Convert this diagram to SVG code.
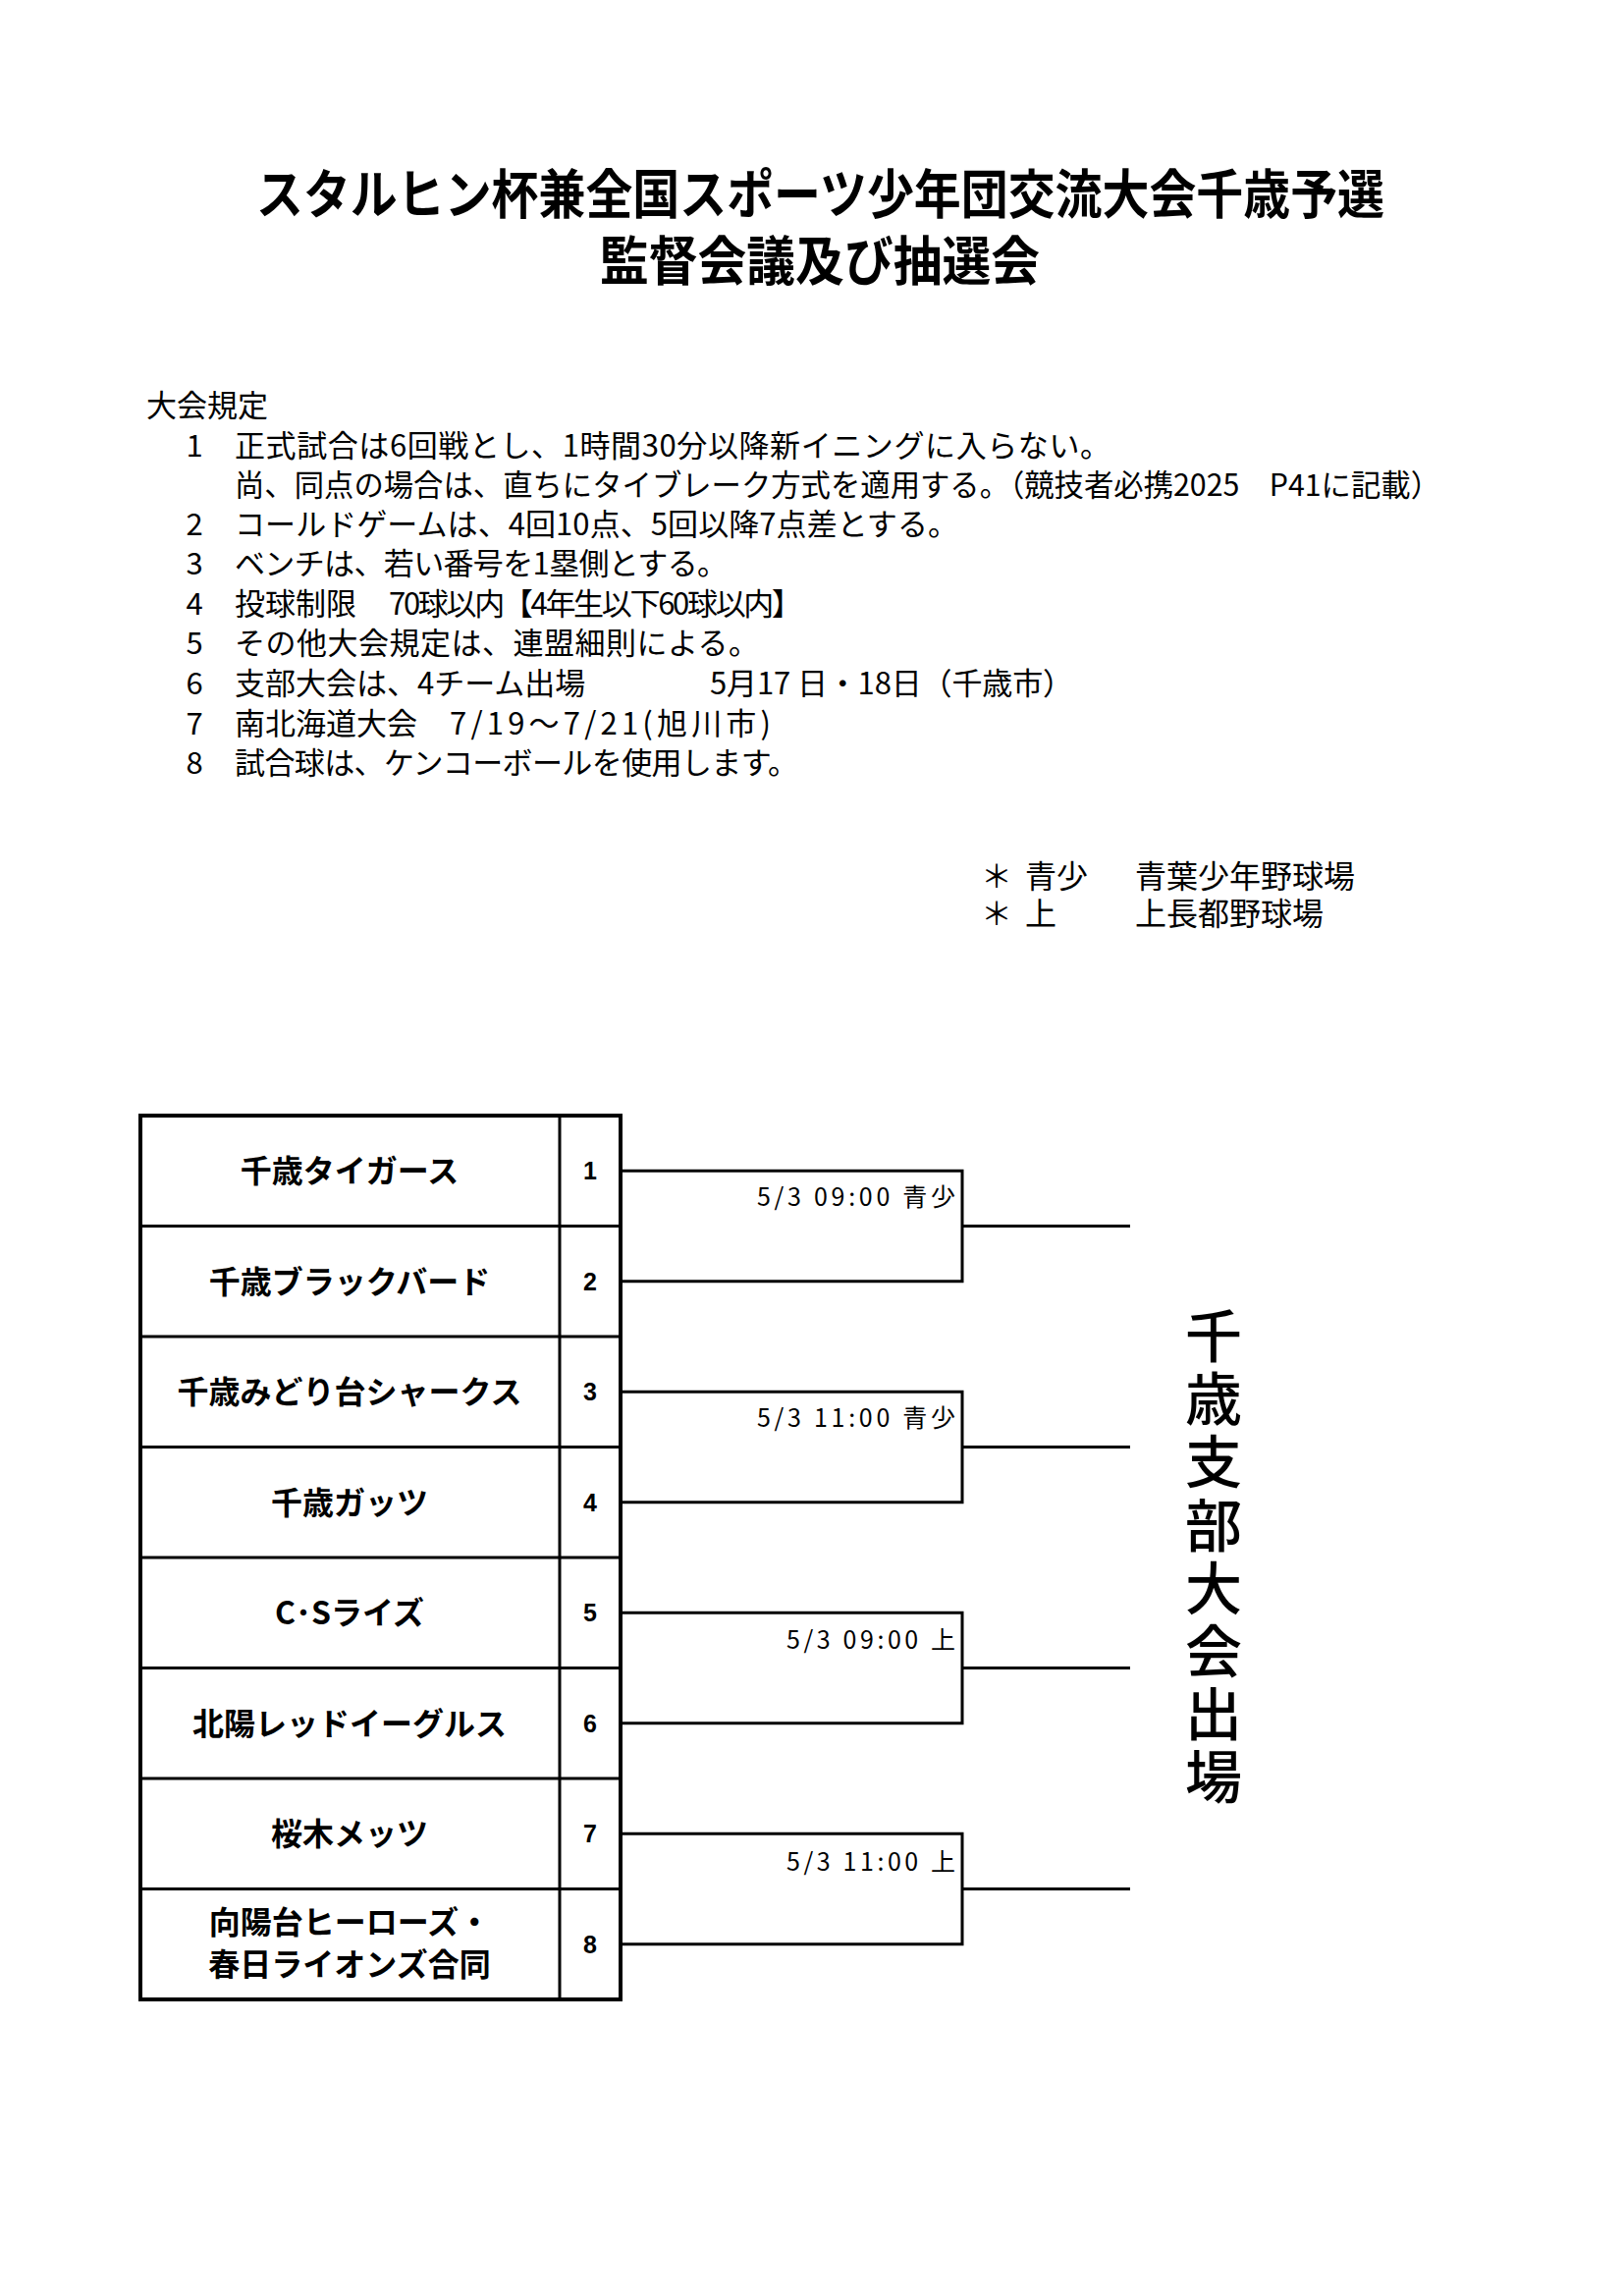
<svg xmlns="http://www.w3.org/2000/svg" width="1654" height="2338" viewBox="0 0 1654 2338">
<style>
text { font-family: "Noto Sans CJK JP", "Noto Sans CJK SC", sans-serif; fill:#000; }
.title { font-size:54px; font-weight:700; }
.rule { font-size:31px; }
.note { font-size:32px; }
.team { font-size:32px; font-weight:700; text-anchor:middle; }
.num { font-family:"Liberation Sans", sans-serif; font-weight:700; font-size:25px; text-anchor:middle; }
.lbl { font-size:25px; }
.vert { font-size:58px; font-weight:500; writing-mode:vertical-rl; letter-spacing:6.2px; }
.ln { stroke:#000; stroke-width:3; fill:none; }
.outer { stroke:#000; stroke-width:4; fill:none; }
</style>
<rect width="1654" height="2338" fill="#fff"/>
<g id="title">
<text class="title" x="261" y="218" textLength="1149" lengthAdjust="spacingAndGlyphs">スタルヒン杯兼全国スポーツ少年団交流大会千歳予選</text>
<text class="title" x="611" y="286" textLength="448" lengthAdjust="spacingAndGlyphs">監督会議及び抽選会</text>
</g>
<g id="rules">
<text class="rule" x="149" y="424">大会規定</text>
<text class="rule" x="198" y="465" text-anchor="middle">1</text>
<text class="rule" x="239" y="465" textLength="892" lengthAdjust="spacing">正式試合は6回戦とし、1時間30分以降新イニングに入らない。</text>
<text class="rule" x="239" y="505" textLength="1228" lengthAdjust="spacingAndGlyphs">尚、同点の場合は、直ちにタイブレーク方式を適用する。（競技者必携2025　P41に記載）</text>
<text class="rule" x="198" y="545" text-anchor="middle">2</text>
<text class="rule" x="239" y="545" textLength="737" lengthAdjust="spacing">コールドゲームは、4回10点、5回以降7点差とする。</text>
<text class="rule" x="198" y="585" text-anchor="middle">3</text>
<text class="rule" x="239" y="585" textLength="502" lengthAdjust="spacing">ベンチは、若い番号を1塁側とする。</text>
<text class="rule" x="198" y="626" text-anchor="middle">4</text>
<text class="rule" x="239" y="626">投球制限</text>
<text class="rule" x="396" y="626" textLength="421" lengthAdjust="spacing">70球以内【4年生以下60球以内】</text>
<text class="rule" x="198" y="666" text-anchor="middle">5</text>
<text class="rule" x="239" y="666" textLength="534" lengthAdjust="spacing">その他大会規定は、連盟細則による。</text>
<text class="rule" x="198" y="707" text-anchor="middle">6</text>
<text class="rule" x="239" y="707">支部大会は、4チーム出場</text>
<text class="rule" x="723" y="707" textLength="370" lengthAdjust="spacing">5月17 日・18日（千歳市）</text>
<text class="rule" x="198" y="748" text-anchor="middle">7</text>
<text class="rule" x="239" y="748">南北海道大会</text>
<text class="rule" x="458" y="748" textLength="327" lengthAdjust="spacing">7/19～7/21(旭川市)</text>
<text class="rule" x="198" y="788" text-anchor="middle">8</text>
<text class="rule" x="239" y="788" textLength="574" lengthAdjust="spacing">試合球は、ケンコーボールを使用します。</text>
</g>
<g id="legend">
<text class="note" x="999" y="904">＊</text>
<text class="note" x="1044" y="904">青少</text>
<text class="note" x="1156" y="904">青葉少年野球場</text>
<text class="note" x="999" y="942">＊</text>
<text class="note" x="1044" y="942">上</text>
<text class="note" x="1156" y="942">上長都野球場</text>
</g>
<g id="table">
<rect class="outer" x="143" y="1136" width="489" height="900"/>
<line class="ln" x1="570" y1="1136" x2="570" y2="2036"/>
<line class="ln" x1="143" y1="1248.5" x2="632" y2="1248.5"/>
<line class="ln" x1="143" y1="1361" x2="632" y2="1361"/>
<line class="ln" x1="143" y1="1473.5" x2="632" y2="1473.5"/>
<line class="ln" x1="143" y1="1586" x2="632" y2="1586"/>
<line class="ln" x1="143" y1="1698.5" x2="632" y2="1698.5"/>
<line class="ln" x1="143" y1="1811" x2="632" y2="1811"/>
<line class="ln" x1="143" y1="1923.5" x2="632" y2="1923.5"/>
</g>
<g id="team1"><text class="team" x="356" y="1204">千歳タイガース</text><text class="num" x="601" y="1201">1</text></g>
<g id="team2"><text class="team" x="356" y="1317">千歳ブラックバード</text><text class="num" x="601" y="1314">2</text></g>
<g id="team3"><text class="team" x="356" y="1429">千歳みどり台シャークス</text><text class="num" x="601" y="1426">3</text></g>
<g id="team4"><text class="team" x="356" y="1542">千歳ガッツ</text><text class="num" x="601" y="1539">4</text></g>
<g id="team5"><text class="team" x="356" y="1654">C･Sライズ</text><text class="num" x="601" y="1651">5</text></g>
<g id="team6"><text class="team" x="356" y="1767">北陽レッドイーグルス</text><text class="num" x="601" y="1764">6</text></g>
<g id="team7"><text class="team" x="356" y="1879">桜木メッツ</text><text class="num" x="601" y="1876">7</text></g>
<g id="team8"><text class="team" x="356" y="1969">向陽台ヒーローズ・</text><text class="team" x="356" y="2012">春日ライオンズ合同</text><text class="num" x="601" y="1989">8</text></g>
<g id="connectors">
<path class="ln" d="M632,1192.25 H980 V1304.75 H632 M980,1248.5 H1151"/>
<path class="ln" d="M632,1417.25 H980 V1529.75 H632 M980,1473.5 H1151"/>
<path class="ln" d="M632,1642.25 H980 V1754.75 H632 M980,1698.5 H1151"/>
<path class="ln" d="M632,1867.25 H980 V1979.75 H632 M980,1923.5 H1151"/>
</g>
<g id="match-labels">
<text class="lbl" x="771" y="1228" textLength="202" lengthAdjust="spacing">5/3  09:00  青少</text>
<text class="lbl" x="771" y="1453" textLength="202" lengthAdjust="spacing">5/3  11:00  青少</text>
<text class="lbl" x="801" y="1679" textLength="172" lengthAdjust="spacing">5/3  09:00  上</text>
<text class="lbl" x="801" y="1905" textLength="172" lengthAdjust="spacing">5/3  11:00  上</text>
</g>
<g id="winner">
<text class="vert" x="1236" y="1331">千歳支部大会出場</text>
</g>
</svg>
